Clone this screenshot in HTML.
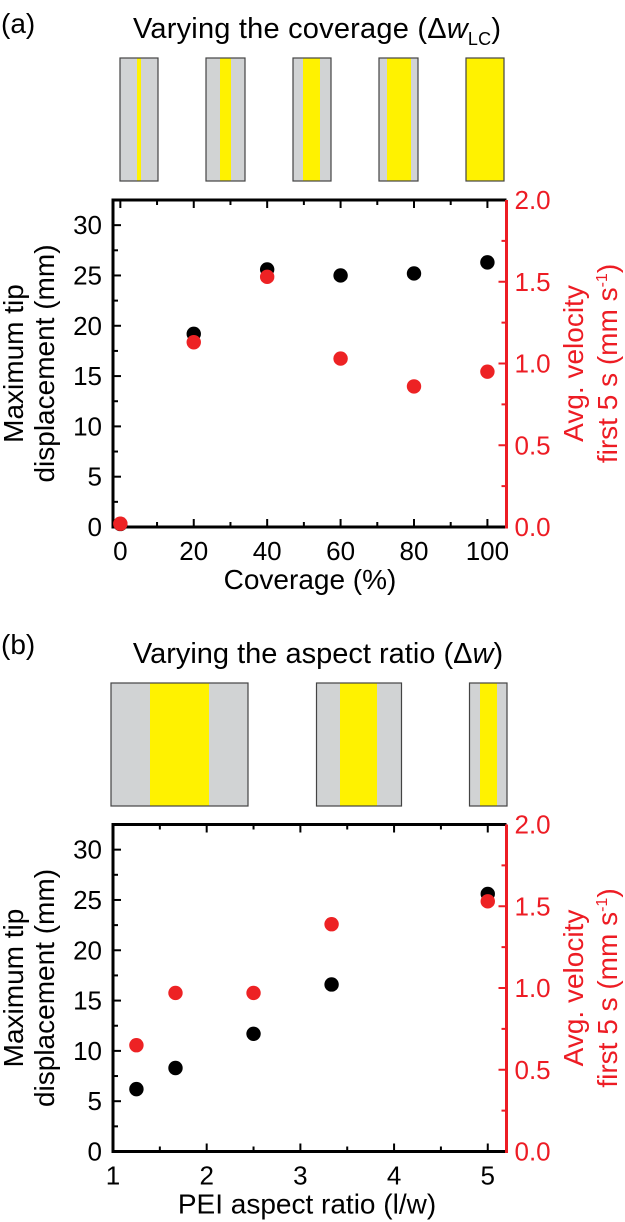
<!DOCTYPE html>
<html><head><meta charset="utf-8"><style>
html,body{margin:0;padding:0;background:#fff;}
svg{display:block;font-family:"Liberation Sans",sans-serif;}
</style></head><body>
<svg id="fig" width="625" height="1222" viewBox="0 0 625 1222" xmlns="http://www.w3.org/2000/svg">
<text x="1" y="33" font-size="28">(a)</text>
<text x="317" y="38" font-size="29" text-anchor="middle" textLength="368">Varying the coverage (Δ<tspan font-style="italic">w</tspan><tspan font-size="18" dy="7">LC</tspan><tspan dy="-7">)</tspan></text>
<text x="1" y="654" font-size="28">(b)</text>
<text x="318" y="663" font-size="29" text-anchor="middle">Varying the aspect ratio (Δ<tspan font-style="italic">w</tspan>)</text>
<g id="schemA"></g>
<g id="schemB"></g>
<g id="plotA"></g>
<g id="plotB"></g>
</svg>
<script>
// Panel (a) data
const covX = [0, 20, 40, 60, 80, 100];
const covDisp = [0.3, 19.2, 25.6, 25.0, 25.2, 26.3];
const covVel = [0.02, 1.13, 1.53, 1.03, 0.86, 0.95];
const covXTicks = ["0", "20", "40", "60", "80", "100"];
// Panel (b) data
const arX = [1.25, 1.667, 2.5, 3.333, 5];
const arDisp = [6.2, 8.3, 11.7, 16.6, 25.6];
const arVel = [0.65, 0.97, 0.97, 1.39, 1.53];
const arXTicks = ["1", "2", "3", "4", "5"];
const leftTicks = ["0", "5", "10", "15", "20", "25", "30"];
const rightTicks = ["0.0", "0.5", "1.0", "1.5", "2.0"];

const NS = "http://www.w3.org/2000/svg";
function mk(parent, tag, attrs) {
  const e = document.createElementNS(NS, tag);
  for (const k in attrs) e.setAttribute(k, attrs[k]);
  parent.appendChild(e);
  return e;
}

const sa = document.getElementById('schemA');
[[120,158,137,141],[206,245,220,231],[293,331,303,320],[379,418,387,411],[466,504,466,504]].forEach((r,i)=>{
  const g = mk(sa,'g',{});
  
  
  mk(g,'rect',{x:r[0],y:58,width:r[1]-r[0],height:123,fill:'#d1d3d4'});
  mk(g,'rect',{x:r[2],y:58,width:r[3]-r[2],height:123,fill:'#fff200'});
  mk(g,'rect',{x:r[0],y:58,width:r[1]-r[0],height:123,fill:'none',stroke:'#444',"stroke-width":1.2});
});
const sb = document.getElementById('schemB');
[[111,248,150,209],[316.5,401.5,340,377],[469.5,507,480,497]].forEach((r,i)=>{
  const g = mk(sb,'g',{});
  
  
  mk(g,'rect',{x:r[0],y:683,width:r[1]-r[0],height:123,fill:'#d1d3d4'});
  mk(g,'rect',{x:r[2],y:683,width:r[3]-r[2],height:123,fill:'#fff200'});
  mk(g,'rect',{x:r[0],y:683,width:r[1]-r[0],height:123,fill:'none',stroke:'#444',"stroke-width":1.2});
});

function drawPlot(gid, cfg) {
  const g = document.getElementById(gid);
  const L = 113, R = 506.5, T = cfg.top, B = cfg.top + 327;
  const sx = v => L + (v - cfg.xmin) / (cfg.xmax - cfg.xmin) * (R - L);
  const sy = v => B - v / 32.5 * (B - T);
  const sr = v => B - v / 2.0 * (B - T);
  cfg.xMajor.forEach((v,i)=>{
    const x = sx(v);
    mk(g,'line',{x1:x,y1:B,x2:x,y2:B-8,stroke:'#000','stroke-width':2});
    mk(g,'line',{x1:x,y1:T,x2:x,y2:T+8,stroke:'#000','stroke-width':2});
    const t = mk(g,'text',{x:x,y:B+33,'font-size':26,'text-anchor':'middle'});
    t.textContent = cfg.xLabels[i];
    
    
  });
  cfg.xMinor.forEach(v=>{
    const x = sx(v);
    mk(g,'line',{x1:x,y1:B,x2:x,y2:B-5,stroke:'#000','stroke-width':2});
    mk(g,'line',{x1:x,y1:T,x2:x,y2:T+5,stroke:'#000','stroke-width':2});
  });
  leftTicks.forEach(s=>{
    const v = parseFloat(s), y = sy(v);
    mk(g,'line',{x1:L,y1:y,x2:L+8,y2:y,stroke:'#000','stroke-width':2});
    mk(g,'line',{x1:L,y1:sy(v+2.5),x2:L+5,y2:sy(v+2.5),stroke:'#000','stroke-width':2});
    const t = mk(g,'text',{x:L-11,y:y+9,'font-size':26,'text-anchor':'end'});
    t.textContent = s;
    
    
  });
  rightTicks.forEach(s=>{
    const v = parseFloat(s), y = sr(v);
    mk(g,'line',{x1:R,y1:y,x2:R-8,y2:y,stroke:'#ed1c24','stroke-width':2});
    if (v < 2) mk(g,'line',{x1:R,y1:sr(v+0.25),x2:R-5,y2:sr(v+0.25),stroke:'#ed1c24','stroke-width':2});
    const t = mk(g,'text',{x:R+8,y:y+9,'font-size':26,fill:'#ed1c24'});
    t.textContent = s;
    
    
  });
  mk(g,'path',{d:`M${R},${T} L${L},${T} L${L},${B} L${R},${B}`,fill:'none',stroke:'#000','stroke-width':3});
  mk(g,'line',{x1:R,y1:T,x2:R,y2:B+1.5,stroke:'#ed1c24','stroke-width':3});
  cfg.xs.forEach((v,i)=>{
    const c = mk(g,'circle',{cx:sx(v),cy:sy(cfg.disp[i]),r:7.2,fill:'#000'});
    
    
  });
  cfg.xs.forEach((v,i)=>{
    const c = mk(g,'circle',{cx:sx(v),cy:sr(cfg.vel[i]),r:7.2,fill:'#ed2224'});
    
    
  });
  const xt = mk(g,'text',{x:cfg.xTitleX,y:B+62,'font-size':28,'text-anchor':'middle'});
  xt.textContent = cfg.xTitle;
  
  
  const cy = (T+B)/2;
  const yt = mk(g,'text',{transform:`translate(23,${cy}) rotate(-90)`,'font-size':28,'text-anchor':'middle'});
  yt.textContent = 'Maximum tip';
  
  
  const yt2 = mk(g,'text',{transform:`translate(54,${cy}) rotate(-90)`,'font-size':28,'text-anchor':'middle'});
  yt2.textContent = 'displacement (mm)';
  
  
  const rt = mk(g,'text',{transform:`translate(583,${cy}) rotate(-90)`,'font-size':28,'text-anchor':'middle',fill:'#ed1c24'});
  rt.textContent = 'Avg. velocity';
  
  
  const rt2 = mk(g,'text',{transform:`translate(617,${cy}) rotate(-90)`,'font-size':28,'text-anchor':'middle',fill:'#ed1c24'});
  rt2.innerHTML = 'first 5 s (mm s<tspan font-size="16" dy="-10">-1</tspan><tspan dy="10">)</tspan>';
  
  
}

drawPlot('plotA', {top:200, xmin:-2, xmax:105.2, xs:covX, disp:covDisp, vel:covVel,
  xMajor:[0,20,40,60,80,100], xMinor:[10,30,50,70,90], xLabels:covXTicks,
  xTitle:'Coverage (%)', xTitleX:310});
drawPlot('plotB', {top:824.5, xmin:1, xmax:5.2, xs:arX, disp:arDisp, vel:arVel,
  xMajor:[1,2,3,4,5], xMinor:[1.5,2.5,3.5,4.5], xLabels:arXTicks,
  xTitle:'PEI aspect ratio (l/w)', xTitleX:307});
</script>
</body></html>
